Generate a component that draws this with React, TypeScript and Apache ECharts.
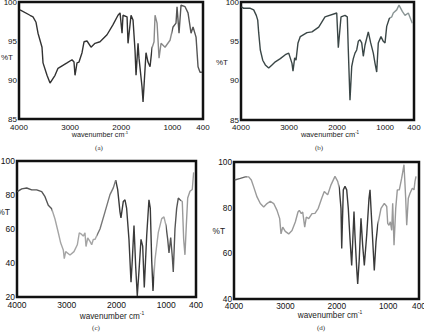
import React, { useEffect, useRef } from "react";
import * as echarts from "echarts";

// Tick labels
const xTickValues = [4000, 3000, 2000, 1000, 400];
const panelLabels = ["(a)", "(b)", "(c)", "(d)"];
const yAxisTitle = "%T";
const xAxisTitle = "wavenumber cm{s|-1}";

// Spectra: [wavenumber (cm^-1), %T]
const spectrumA: [number, number][] = [
  [3980, 99.0], [3785, 98.3], [3726, 98.1], [3667, 97.4], [3628, 96.0], [3550, 94.2], [3530, 92.2],
  [3452, 90.6], [3393, 89.6], [3295, 90.6], [3237, 91.5], [3061, 92.2], [2963, 92.6], [2924, 92.3],
  [2904, 90.6], [2865, 92.2], [2826, 92.3], [2767, 93.5], [2728, 94.9], [2669, 95.0], [2591, 94.2],
  [2513, 94.7], [2415, 94.9], [2278, 95.8], [2160, 97.1], [2063, 98.3], [2023, 98.6], [1984, 96.0],
  [1965, 98.3], [1886, 98.1], [1867, 94.7], [1808, 98.3], [1769, 97.7], [1730, 93.8], [1710, 90.6],
  [1671, 94.7], [1652, 92.8], [1593, 89.1], [1573, 87.2], [1515, 93.5], [1476, 92.3], [1436, 91.7],
  [1397, 94.1], [1358, 94.9], [1338, 98.3], [1299, 97.3], [1260, 92.8], [1221, 94.7], [1143, 94.2],
  [1045, 95.1], [986, 96.8], [928, 97.3], [908, 99.4], [869, 96.0], [830, 99.6], [751, 99.4],
  [693, 98.6], [634, 96.0], [595, 96.8], [536, 95.5], [497, 91.7], [458, 91.0], [419, 91.0],
];

const spectrumB: [number, number][] = [
  [3994, 99.4], [3944, 99.2], [3806, 99.2], [3736, 99.0], [3682, 98.3], [3652, 97.7], [3632, 96.1],
  [3598, 93.9], [3548, 92.6], [3494, 92.0], [3424, 91.6], [3355, 92.0], [3286, 92.4], [3182, 92.8],
  [3078, 93.3], [3007, 93.5], [2939, 92.2], [2918, 91.2], [2883, 92.9], [2855, 92.6], [2814, 94.8],
  [2766, 95.6], [2627, 96.1], [2523, 96.2], [2383, 96.8], [2252, 98.1], [2008, 98.6], [1975, 94.2],
  [1919, 98.1], [1836, 98.3], [1788, 98.1], [1767, 93.9], [1732, 87.5], [1696, 91.8], [1663, 92.8],
  [1628, 93.5], [1592, 93.9], [1559, 95.0], [1524, 95.2], [1488, 94.8], [1455, 93.1], [1420, 94.5],
  [1351, 96.2], [1301, 94.8], [1247, 93.5], [1211, 92.2], [1176, 91.1], [1143, 94.8], [1087, 95.6],
  [1039, 95.0], [1003, 94.8], [968, 96.9], [914, 97.9], [864, 98.1], [831, 98.6], [760, 99.0],
  [712, 99.6], [643, 98.8], [587, 98.3], [518, 98.6], [462, 97.7], [435, 97.3],
];

const spectrumC: [number, number][] = [
  [3994, 82.0], [3905, 83.6], [3805, 84.1], [3704, 83.0], [3604, 83.0], [3503, 82.0], [3437, 79.0],
  [3371, 73.9], [3302, 71.9], [3236, 65.9], [3169, 57.8], [3121, 51.7], [3069, 47.7], [3049, 42.6],
  [3021, 46.7], [2934, 44.7], [2854, 46.7], [2787, 50.7], [2747, 57.8], [2699, 56.8], [2667, 55.8],
  [2633, 57.8], [2612, 49.7], [2578, 54.7], [2532, 52.7], [2498, 50.7], [2466, 53.8], [2431, 53.9],
  [2331, 60.0], [2230, 70.1], [2130, 80.2], [2063, 84.2], [2015, 88.7], [1975, 83.2], [1929, 70.1],
  [1909, 66.5], [1862, 76.2], [1828, 77.2], [1795, 72.1], [1748, 53.9], [1707, 28.7], [1681, 41.8],
  [1647, 62.0], [1613, 37.8], [1581, 20.6], [1541, 37.8], [1506, 53.9], [1472, 49.9], [1440, 25.6],
  [1392, 55.9], [1346, 77.2], [1319, 72.1], [1291, 41.8], [1265, 23.6], [1225, 41.8], [1158, 58.0],
  [1090, 66.1], [1044, 67.1], [1004, 62.0], [969, 53.9], [943, 45.9], [909, 55.0], [877, 43.8],
  [857, 34.7], [823, 60.0], [789, 72.1], [756, 78.2], [722, 77.2], [676, 76.2], [648, 53.9],
  [622, 44.8], [595, 62.0], [567, 78.2], [521, 82.2], [475, 83.2], [447, 93.3],
];

const spectrumD: [number, number][] = [
  [3986, 92.1], [3877, 92.8], [3780, 93.5], [3714, 93.5], [3663, 92.1], [3617, 89.1], [3552, 84.7],
  [3488, 81.8], [3422, 80.3], [3358, 81.8], [3294, 82.8], [3227, 81.8], [3163, 78.8], [3111, 75.2],
  [3085, 68.5], [3052, 71.5], [3002, 69.6], [2936, 68.5], [2871, 70.0], [2807, 73.7], [2755, 78.1],
  [2729, 78.8], [2690, 77.4], [2663, 78.1], [2624, 71.5], [2593, 75.9], [2546, 75.2], [2482, 77.4],
  [2424, 77.5], [2360, 79.7], [2293, 84.1], [2243, 87.1], [2177, 85.6], [2112, 90.0], [2035, 93.7],
  [1982, 91.5], [1951, 88.5], [1918, 79.7], [1904, 62.1], [1873, 87.8], [1840, 89.3], [1807, 87.8],
  [1776, 79.7], [1743, 66.5], [1710, 54.7], [1690, 65.0], [1665, 78.3], [1646, 67.9], [1612, 53.2],
  [1593, 46.6], [1562, 57.7], [1529, 75.3], [1496, 63.5], [1464, 54.7], [1418, 67.9], [1373, 84.1],
  [1353, 87.8], [1334, 79.7], [1289, 60.6], [1270, 52.5], [1237, 65.0], [1204, 72.3], [1139, 79.7],
  [1075, 81.9], [1028, 80.5], [1009, 73.1], [984, 72.3], [958, 73.8], [931, 70.1], [912, 81.9],
  [886, 63.5], [853, 79.7], [822, 87.8], [783, 87.8], [737, 92.9], [692, 98.8], [659, 84.1],
  [639, 72.3], [608, 84.1], [575, 86.3], [530, 88.5], [497, 87.8], [478, 91.5], [458, 93.7],
];

const yRanges = [
  { min: 85, max: 100, interval: 5 },
  { min: 85, max: 100, interval: 5 },
  { min: 20, max: 100, interval: 20 },
  { min: 40, max: 100, interval: 20 },
];

const spectra = [spectrumA, spectrumB, spectrumC, spectrumD];

export default function App() {
  const ref = useRef<HTMLDivElement>(null);

  useEffect(() => {
    if (!ref.current) return;
    const chart = echarts.init(ref.current, null, { renderer: "svg" });
    const font = "Liberation Sans";

    const grids = [
      { left: 19, top: 2, width: 184, height: 117 },
      { left: 241, top: 2, width: 173, height: 118 },
      { left: 17, top: 161, width: 179, height: 136 },
      { left: 234, top: 162, width: 185, height: 137 },
    ];
    const tickFont = [8, 8, 8.5, 8.3];
    const nameFont = [7.2, 7.4, 8.2, 8.2];
    const xLabelMargin = [4, 3, 3.5, 3];
    const xNameGap = [11, 10, 14, 11];
    const xNamePad = [
      [0, 22, 0, 0],
      [0, 0, 0, 5],
      [0, 0, 0, 11],
      [0, 0, 0, 7],
    ];
    const yTitlePos = [
      [13, 57],
      [228, 62],
      [10, 212],
      [225, 231],
    ];
    const captionPos = [
      [99, 148],
      [319, 148],
      [96, 328],
      [321, 328],
    ];
    // colour segments of each trace along the wavenumber axis (styling only)
    const colorPieces = [
      [
        { gte: 0, lt: 1000, color: "#555" },
        { gte: 1000, lt: 1400, color: "#8a8a8a" },
        { gte: 1400, lt: 5000, color: "#333" },
      ],
      [
        { gte: 0, lt: 900, color: "#8a9595" },
        { gte: 900, lt: 5000, color: "#3a4646" },
      ],
      [
        { gte: 0, lt: 700, color: "#9a9a9a" },
        { gte: 700, lt: 1000, color: "#555" },
        { gte: 1000, lt: 1250, color: "#a5a5a5" },
        { gte: 1250, lt: 2000, color: "#3a3a3a" },
        { gte: 2000, lt: 2400, color: "#777" },
        { gte: 2400, lt: 3300, color: "#a5a5a5" },
        { gte: 3300, lt: 5000, color: "#555" },
      ],
      [
        { gte: 0, lt: 1200, color: "#999" },
        { gte: 1200, lt: 1950, color: "#3a3a3a" },
        { gte: 1950, lt: 3750, color: "#9a9a9a" },
        { gte: 3750, lt: 5000, color: "#666" },
      ],
    ];

    const option: any = {
      animation: false,
      backgroundColor: "#fff",
      grid: grids.map((g) => ({
        ...g,
        show: true,
        backgroundColor: "#fff",
        borderColor: "#111",
        borderWidth: 2.5,
        containLabel: false,
        outerBoundsMode: "none",
      })),
      visualMap: colorPieces.map((pieces, i) => ({
        type: "piecewise",
        show: false,
        seriesIndex: i,
        dimension: 0,
        pieces,
      })),
      xAxis: grids.map((_, i) => ({
        gridIndex: i,
        type: "value",
        inverse: true,
        min: 400,
        max: 4000,
        axisLine: { show: false },
        axisTick: { show: false },
        splitLine: { show: false },
        axisLabel: {
          customValues: xTickValues,
          formatter: (v: number) => String(v),
          fontSize: tickFont[i],
          fontFamily: font,
          color: "#111",
          margin: xLabelMargin[i],
        },
        name: xAxisTitle,
        nameLocation: "middle",
        nameGap: xNameGap[i],
        nameMoveOverlap: false,
        nameTextStyle: {
          fontSize: nameFont[i],
          fontFamily: font,
          color: "#222",
          padding: xNamePad[i],
          rich: {
            s: {
              fontSize: nameFont[i] * 0.6,
              fontFamily: font,
              color: "#222",
              verticalAlign: "top",
              padding: [0, 0, 5, 0],
            },
          },
        },
      })),
      yAxis: grids.map((_, i) => ({
        gridIndex: i,
        type: "value",
        min: yRanges[i].min,
        max: yRanges[i].max,
        interval: yRanges[i].interval,
        axisLine: { show: false },
        axisTick: { show: false },
        splitLine: { show: false },
        axisLabel: {
          formatter: (v: number) => String(v),
          fontSize: tickFont[i],
          fontFamily: font,
          color: "#111",
          margin: 2,
        },
      })),
      series: spectra.map((d, i) => ({
        type: "line",
        xAxisIndex: i,
        yAxisIndex: i,
        data: d,
        showSymbol: false,
        symbol: "none",
        smooth: false,
        lineStyle: { width: 1.4 },
        clip: true,
      })),
      graphic: [
        ...panelLabels.map((t, i) => ({
          type: "text",
          x: captionPos[i][0],
          y: captionPos[i][1],
          style: {
            text: t,
            font: '7px "Liberation Serif"',
            textAlign: "center",
            textVerticalAlign: "middle",
            fill: "#333",
          },
        })),
        ...yTitlePos.map((p, i) => ({
          type: "text",
          x: p[0],
          y: p[1],
          style: {
            text: yAxisTitle,
            font: `${tickFont[i]}px "Liberation Sans"`,
            textAlign: "right",
            textVerticalAlign: "middle",
            fill: "#222",
          },
        })),
      ],
    };

    chart.setOption(option);
    return () => chart.dispose();
  }, []);

  return (
    <div
      ref={ref}
      style={{ position: "fixed", left: 0, top: 0, width: 424, height: 335 }}
    />
  );
}
